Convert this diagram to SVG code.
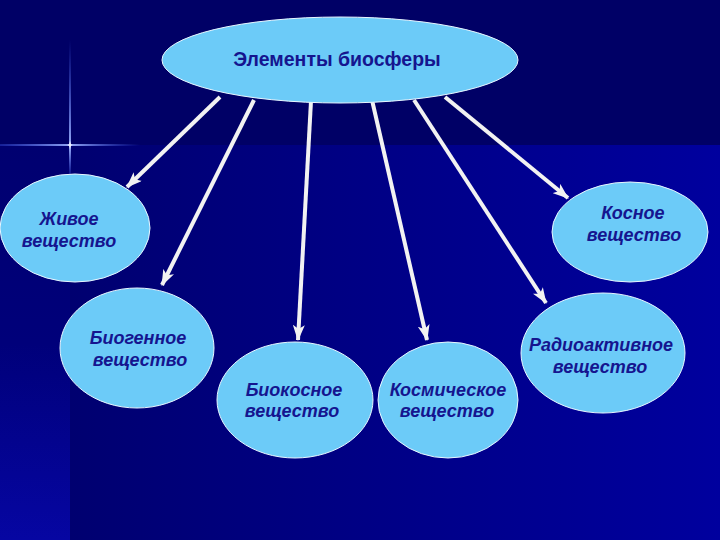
<svg xmlns="http://www.w3.org/2000/svg" width="720" height="540" viewBox="0 0 720 540">
<defs>
<linearGradient id="bgR" x1="0" y1="0" x2="1" y2="0">
<stop offset="0" stop-color="#000070"/>
<stop offset="1" stop-color="#00009e"/>
</linearGradient>
<linearGradient id="bgL" x1="0" y1="0" x2="0" y2="1">
<stop offset="0" stop-color="#000070"/>
<stop offset="0.5" stop-color="#00007a"/>
<stop offset="1" stop-color="#0606a2"/>
</linearGradient>
<linearGradient id="sparkV" x1="0" y1="0" x2="0" y2="1">
<stop offset="0" stop-color="#4a6aff" stop-opacity="0"/>
<stop offset="0.72" stop-color="#9ab0ff" stop-opacity="0.9"/>
<stop offset="0.75" stop-color="#ffffff" stop-opacity="1"/>
<stop offset="0.78" stop-color="#9ab0ff" stop-opacity="0.9"/>
<stop offset="1" stop-color="#4a6aff" stop-opacity="0"/>
</linearGradient>
<linearGradient id="sparkH" x1="0" y1="0" x2="1" y2="0">
<stop offset="0" stop-color="#4a6aff" stop-opacity="0.3"/>
<stop offset="0.48" stop-color="#9ab0ff" stop-opacity="0.9"/>
<stop offset="0.5" stop-color="#ffffff" stop-opacity="1"/>
<stop offset="0.52" stop-color="#9ab0ff" stop-opacity="0.9"/>
<stop offset="1" stop-color="#4a6aff" stop-opacity="0"/>
</linearGradient>
<marker id="arr" viewBox="0 0 16 12" refX="15" refY="6" markerWidth="16" markerHeight="12" markerUnits="userSpaceOnUse" orient="auto">
<path d="M0,0 L16,6 L0,12 L4,6 Z" fill="#f2f2f2"/>
</marker>
<style>
.node ellipse { fill: #6ccbf8; stroke: #e8f6ff; stroke-width: 1; }
.t { font-family: "Liberation Sans", Arial, sans-serif; font-weight: bold; font-style: italic; font-size: 18px; fill: #15158f; text-anchor: middle; }
.title { font-family: "Liberation Sans", Arial, sans-serif; font-weight: bold; font-size: 19.5px; fill: #15158f; text-anchor: middle; }
.conn line { stroke: #f2f2f2; stroke-width: 4; marker-end: url(#arr); }
</style>
</defs>
<g id="background">
<rect x="0" y="0" width="720" height="540" fill="#000066"/>
<rect x="70" y="145" width="650" height="395" fill="url(#bgR)"/>
<rect x="0" y="145" width="70" height="395" fill="url(#bgL)"/>
<rect x="69" y="40" width="2" height="140" fill="url(#sparkV)"/>
<rect x="0" y="144" width="140" height="2" fill="url(#sparkH)"/>
</g>
<g id="connectors" class="conn">
<line x1="220" y1="97" x2="127" y2="187"/>
<line x1="254" y1="100" x2="162" y2="285"/>
<line x1="311" y1="101" x2="298" y2="340"/>
<line x1="372" y1="100" x2="427" y2="340"/>
<line x1="414" y1="100" x2="546" y2="303"/>
<line x1="445" y1="97" x2="568" y2="198"/>
</g>
<g id="n-root" class="node">
<ellipse cx="340" cy="60" rx="178" ry="43"/>
<text class="title" x="337" y="66">Элементы биосферы</text>
</g>
<g id="n-zhivoe" class="node">
<ellipse cx="75" cy="228" rx="75" ry="54"/>
<text class="t" x="69" y="225">Живое</text>
<text class="t" x="69" y="247">вещество</text>
</g>
<g id="n-kosnoe" class="node">
<ellipse cx="630" cy="232" rx="78" ry="50"/>
<text class="t" x="633" y="219">Косное</text>
<text class="t" x="634" y="241">вещество</text>
</g>
<g id="n-biogennoe" class="node">
<ellipse cx="137" cy="348" rx="77" ry="60"/>
<text class="t" x="138" y="344">Биогенное</text>
<text class="t" x="140" y="366">вещество</text>
</g>
<g id="n-radio" class="node">
<ellipse cx="603" cy="353" rx="82" ry="60"/>
<text class="t" x="601" y="351">Радиоактивное</text>
<text class="t" x="600" y="373">вещество</text>
</g>
<g id="n-biokosnoe" class="node">
<ellipse cx="295" cy="400" rx="78" ry="58"/>
<text class="t" x="294" y="396">Биокосное</text>
<text class="t" x="292" y="417">вещество</text>
</g>
<g id="n-kosm" class="node">
<ellipse cx="448" cy="400" rx="70" ry="58"/>
<text class="t" x="448" y="396">Космическое</text>
<text class="t" x="447" y="417">вещество</text>
</g>
</svg>
